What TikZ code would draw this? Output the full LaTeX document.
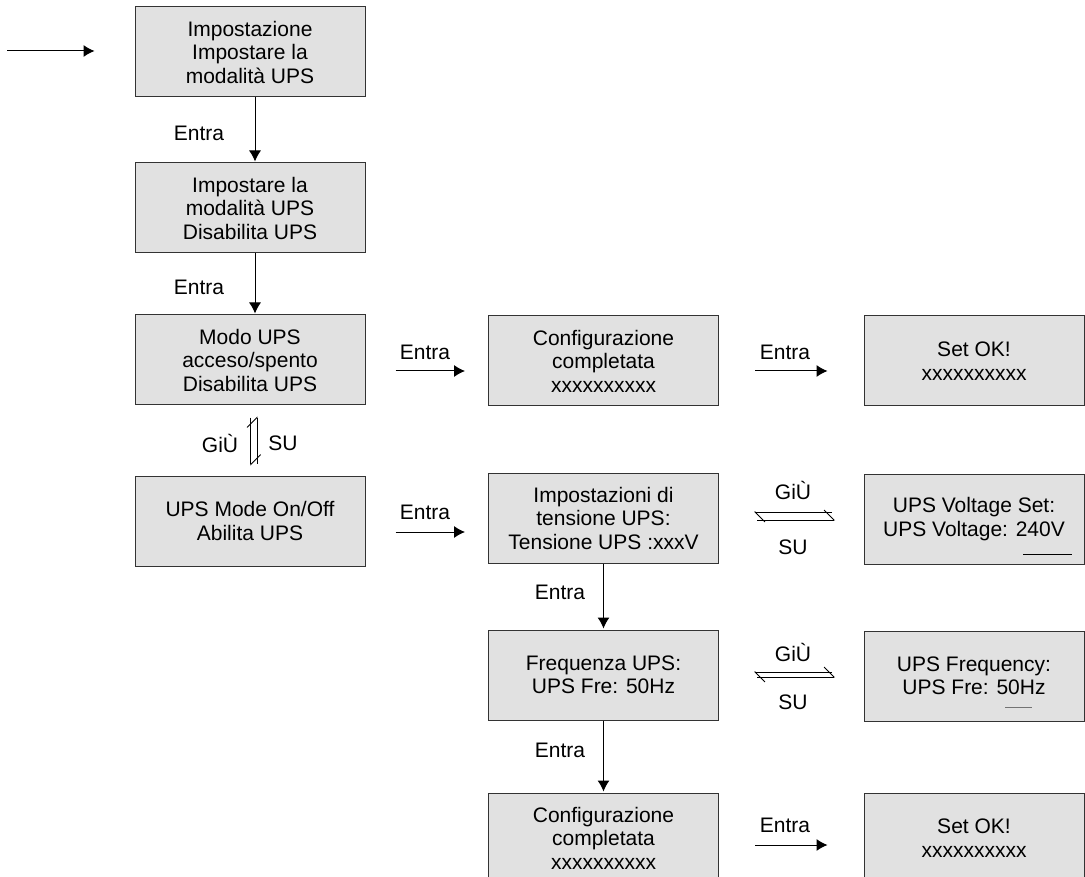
\documentclass[tikz,border=0pt]{standalone}
\usepackage{fontspec}
\setmainfont{Liberation Sans}
\usetikzlibrary{arrows.meta}

\definecolor{panelgray}{RGB}{225,225,225}

\tikzset{
  screen/.style={draw=black!80, fill=panelgray, line width=1pt, align=center,
    minimum width=230pt, minimum height=90pt, inner sep=0pt,
    font=\fontsize{21}{23.5}\selectfont},
  narrow/.style={screen, minimum width=220pt},
  key/.style={font=\fontsize{21}{23.5}\selectfont},
  go/.style={-{Latex[length=11pt,width=12pt]}, line width=1pt},
  flip/.style={-{Straight Barb[harpoon, length=10pt, width=20pt]}, line width=0.8pt},
}

\begin{document}
\begin{tikzpicture}[x=1pt, y=-1pt]
    \useasboundingbox (0,0) rectangle (1085,877);
    \clip (0,0) rectangle (1085,877);

    % draw screens, left column
    \node[screen] (setup) at (250,52) {Impostazione\\Impostare la\\modalità UPS};
    \node[screen] (mode) at (250,208) {Impostare la\\modalità UPS\\Disabilita UPS};
    \node[screen] (off) at (250,360) {Modo UPS\\acceso/spento\\Disabilita UPS};
    \node[screen] (on) at (250,521) {UPS Mode On/Off\\Abilita UPS};

    % middle column
    \node[screen] (done1) at (603.5,361) {Configurazione\\completata\\xxxxxxxxxx};
    \node[screen] (volt) at (603.5,518) {Impostazioni di\\tensione UPS:\\Tensione UPS :xxxV};
    \node[screen] (freq) at (603.5,675) {Frequenza UPS:\\UPS Fre: 50Hz};
    \node[screen] (done2) at (603.5,838) {Configurazione\\completata\\xxxxxxxxxx};

    % right column
    \node[narrow] (ok1) at (974,361) {Set OK!\\xxxxxxxxxx};
    \node[narrow] (voltset) at (974,519) {UPS Voltage Set:\\UPS Voltage: 240V};
    \node[narrow] (freqset) at (974,676) {UPS Frequency:\\UPS Fre: 50Hz};
    \node[narrow] (ok2) at (974,838) {Set OK!\\xxxxxxxxxx};

    % cursors
    \draw[line width=1pt] ([shift={(49,35)}]voltset.center) -- ([shift={(98,35)}]voltset.center);
    \draw[line width=1pt, black!55] ([shift={(31,31)}]freqset.center) -- ([shift={(58,31)}]freqset.center);

    % draw arrows
    \coordinate (in) at (7,51);
    \draw[go, shorten >=40pt] (in) -- (in -| setup.west);
    \draw[go, shorten >=1pt] ([xshift=5pt]setup.south) -- ([xshift=5pt]mode.north);
    \draw[go, shorten >=1pt] ([xshift=5pt]mode.south) -- ([xshift=5pt]off.north);
    \draw[go, shorten >=1pt] (volt.south) -- (freq.north);
    \draw[go, shorten >=1pt] (freq.south) -- (done2.north);

    \draw[go, shorten <=30pt, shorten >=23pt] ([yshift=-11pt]off.east) -- ([yshift=-11pt]off.east -| done1.west);
    \draw[go, shorten <=36pt, shorten >=36pt] ([yshift=-10pt]done1.east) -- ([yshift=-10pt]done1.east -| ok1.west);
    \draw[go, shorten <=30pt, shorten >=23pt] ([yshift=-11pt]on.east) -- ([yshift=-11pt]on.east -| volt.west);
    \draw[go, shorten <=36pt, shorten >=36pt] ([yshift=-7pt]done2.east) -- ([yshift=-7pt]done2.east -| ok2.west);

    % up / down harpoons
    \draw[flip] ([shift={(7,58)}]off.south) -- ([shift={(7,11)}]off.south);
    \draw[flip] ([shift={(0.7,12)}]off.south) -- ([shift={(0.7,60)}]off.south);
    \draw[flip] ([shift={(113,-6)}]volt.east) -- ([shift={(35,-6)}]volt.east);
    \draw[flip] ([shift={(38,2)}]volt.east) -- ([shift={(116,2)}]volt.east);
    \draw[flip] ([shift={(113,-3)}]freq.east) -- ([shift={(35,-3)}]freq.east);
    \draw[flip] ([shift={(38,2)}]freq.east) -- ([shift={(116,2)}]freq.east);

    % draw labels
    \node[key] (e1) at (199,133) {Entra};
    \node[key] (e2) at (199,287) {Entra};
    \node[key] (e3) at (425,352) {Entra};
    \node[key] (e4) at (785,352) {Entra};
    \node[key] (e5) at (425,512) {Entra};
    \node[key] (e6) at (560,592) {Entra};
    \node[key] (e7) at (560,750) {Entra};
    \node[key] (e8) at (785,825) {Entra};

    \node[key] (down1) at (220,443) {GiÙ};
    \node[key] (up1) at (283,443) {SU};
    \node[key] (down2) at (793,490) {GiÙ};
    \node[key] (up2) at (793,547) {SU};
    \node[key] (down3) at (793,652) {GiÙ};
    \node[key] (up3) at (793,702) {SU};
\end{tikzpicture}
\end{document}
